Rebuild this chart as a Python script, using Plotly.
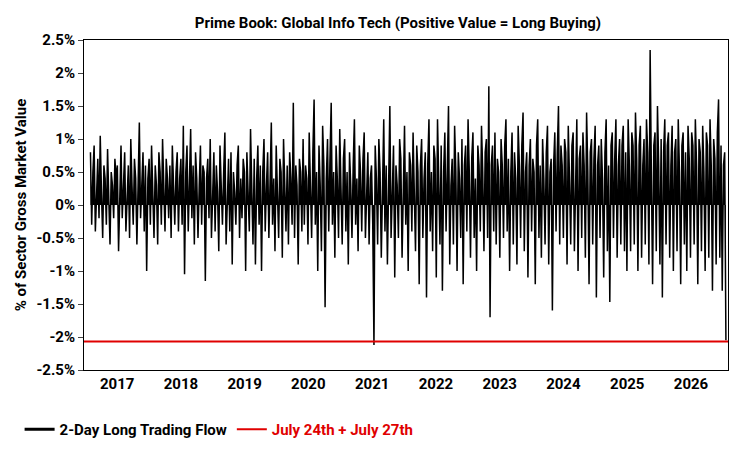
import pandas as pd
import plotly.graph_objects as go

v2016 = [0.8,-0.3,0.5,0.9,-0.4,0.3,0.7,-0.2,1.05,0.2,-0.5,0.6,0.4,-0.3,0.85,0.1,-0.6,0.5,0.3,-0.2,0.7,0.4]
v2017 = [0.6,-0.7,0.3,0.9,-0.2,0.5,0.8,-0.4,0.2,0.6,-0.5,1.0,0.3,-0.3,0.7,0.4,-0.6,0.5,1.25,-0.2,0.3,0.8,-0.4,0.6,-1.0,0.4,0.7,-0.3,0.9,0.2,-0.5,0.6,0.3,-0.6,0.8,0.5,-0.3,1.0,0.2,-0.4,0.7,0.4,-0.2,0.6,-0.5,0.9,0.3,-0.3,0.5,0.8,-0.4,0.4]
v2018 = [0.7,-0.3,1.2,-1.05,0.5,0.9,-0.4,0.3,1.15,-0.2,0.6,-0.6,0.8,0.4,-0.5,0.3,0.9,-0.3,0.6,0.5,-1.15,0.4,0.7,-0.2,1.0,-0.5,0.3,0.8,-0.4,0.6,0.2,-0.7,0.9,0.4,-0.3,0.5,1.1,-0.6,0.3,0.7,-0.4,0.8,-0.9,0.5,0.2,-0.3,0.6,0.9,-0.5,0.4,-0.2,0.7]
v2019 = [0.5,-1.0,0.8,0.3,-0.4,1.15,0.2,-0.6,0.7,-0.9,0.4,0.9,-0.3,0.6,-1.0,0.5,1.0,-0.4,0.3,0.8,-0.5,0.6,1.25,-0.3,0.4,-0.7,0.9,0.2,-0.5,0.7,0.5,-0.8,1.0,0.3,-0.4,0.6,-0.6,0.8,0.4,-0.3,1.55,-0.5,0.6,0.3,-0.9,0.7,0.5,-0.4,1.0,-0.3,0.6,0.4]
v2020 = [-0.6,1.1,0.4,-0.5,0.8,1.6,-0.3,0.5,-1.0,0.9,0.3,-0.7,1.2,0.6,-1.55,0.4,1.0,-0.4,0.7,1.55,-0.3,0.5,-0.8,0.9,0.4,-0.5,1.15,0.3,-0.6,0.7,1.0,-0.4,0.5,-0.9,0.8,0.3,-0.5,0.6,1.3,-0.3,0.4,-0.7,0.9,0.5,-0.4,0.7,1.1,-0.5,0.3,0.8,-0.6,0.4]
v2021 = [0.6,-0.3,-2.12,0.9,0.4,-0.6,1.0,0.5,-0.8,0.7,1.3,-0.4,0.6,-0.9,0.8,1.5,-0.5,0.4,0.9,-1.1,0.6,0.3,-0.5,1.0,0.7,-0.8,0.4,1.2,-0.3,0.5,-1.0,0.8,0.6,-0.4,1.1,0.3,-0.7,0.9,0.5,-1.2,0.6,1.0,-0.5,0.4,0.8,-1.4,0.6,1.3,-0.4,0.5,-0.7,0.9]
v2022 = [0.7,-1.1,1.3,0.4,-0.6,0.9,-1.3,0.5,1.1,-0.4,0.8,1.5,-0.9,0.3,0.7,-0.6,1.2,0.5,-1.0,0.8,0.4,-0.5,1.0,-1.2,0.6,0.9,-0.4,1.3,0.5,-0.8,0.7,1.1,-0.5,0.4,-1.0,0.9,0.6,-0.4,1.2,0.5,-0.7,0.8,1.0,-0.5,1.8,-1.7,0.6,0.9,-0.4,1.1,-0.6,0.7]
v2023 = [0.5,-0.8,1.0,0.6,-0.5,0.9,1.3,-0.4,0.7,-1.0,0.5,1.1,-0.6,0.8,0.4,-0.9,1.2,0.6,-0.5,0.9,1.4,-0.7,0.5,0.8,-1.1,0.6,1.0,-0.4,0.7,0.5,-1.2,0.9,1.3,-0.5,0.6,-0.8,1.0,0.4,-0.6,0.8,1.2,-0.9,0.5,0.7,-1.6,0.6,1.1,-0.4,0.8,1.5,-0.6,0.9]
v2024 = [0.6,-0.5,1.0,0.8,-0.9,1.2,0.4,-0.6,0.9,1.1,-0.7,0.5,1.3,-1.0,0.7,0.9,-0.5,1.1,0.6,-0.8,1.4,0.5,-1.2,0.8,1.0,-0.6,0.7,1.2,-1.4,0.6,0.9,-0.5,1.0,0.4,-1.1,0.8,1.3,-0.7,0.6,-1.47,0.9,1.1,-0.5,0.7,1.3,-0.8,0.6,1.0,-0.6,0.9,1.2,-0.7]
v2025 = [0.8,-1.0,1.3,0.6,-0.7,1.1,0.9,-0.6,1.4,0.7,-1.0,0.9,1.2,-0.8,0.6,1.0,-0.6,1.3,0.8,-0.9,2.35,0.5,-1.2,0.9,1.1,-0.7,1.5,0.6,-0.9,1.0,-1.4,0.8,1.3,-0.6,0.9,1.1,-0.8,0.6,1.2,-1.0,0.8,1.0,-0.7,1.3,0.5,-1.2,0.9,1.1,-0.6,0.8,-1.0,1.2]
v2026 = [0.7,-0.8,1.1,0.9,-0.6,1.3,0.6,-1.2,1.0,0.8,-0.7,1.2,0.5,-1.0,1.1,0.9,-0.8,1.3,0.6,-1.3,1.0,0.7,-0.9,1.1,1.6,-0.8,0.9,-1.3,0.6,0.8,-2.05]

values = v2016+v2017+v2018+v2019+v2020+v2021+v2022+v2023+v2024+v2025+v2026
dates = [d.strftime("%Y-%m-%d") for d in pd.date_range("2016-08-01", periods=len(values), freq="7D")]
ref_level = -2.07
ref_label = "July 24th + July 27th"
series_label = "2-Day Long Trading Flow"
tick_years = [str(y) for y in range(2017, 2027)]
y_ticks = [-2.5, -2, -1.5, -1, -0.5, 0, 0.5, 1, 1.5, 2, 2.5]
y_labels = ["-2.5%", "-2%", "-1.5%", "-1%", "-0.5%", "0%", "0.5%", "1%", "1.5%", "2%", "2.5%"]

fig = go.Figure()
fig.add_trace(go.Scatter(x=dates, y=values, mode="lines", showlegend=False,
                         line=dict(color="black", width=1.5), fill="tozeroy", fillcolor="black"))
fig.add_trace(go.Scatter(x=[None], y=[None], mode="lines", name="<b>" + series_label + "</b>",
                         line=dict(color="black", width=3)))
fig.add_trace(go.Scatter(x=["2016-06-01", "2026-09-01"], y=[ref_level, ref_level], mode="lines",
                         name="<b><span style='color:#e00000'>" + ref_label + "</span></b>",
                         line=dict(color="#e00000", width=2)))
fig.update_layout(
    width=750, height=450, template="simple_white",
    font=dict(family="Roboto", size=15, color="black"),
    title=dict(text="<b>Prime Book: Global Info Tech (Positive Value = Long Buying)</b>",
               x=0.52, xanchor="center", y=0.98, font=dict(size=15)),
    margin=dict(l=72, r=30, t=32, b=84),
    showlegend=True,
    legend=dict(orientation="h", x=-0.1, y=-0.13, xanchor="left", yanchor="top",
                font=dict(size=15, family="Roboto"), itemwidth=30),
    plot_bgcolor="white",
)
fig.update_xaxes(range=["2016-06-25", "2026-08-01"], automargin=False,
                 tickvals=[f"{y}-01-01" for y in tick_years], ticktext=["<b>%s</b>" % t for t in tick_years],
                 mirror=True, showline=True, linecolor="black", ticks="", tickfont=dict(size=15))
fig.update_yaxes(range=[-2.5, 2.5], tickvals=y_ticks, ticktext=["<b>%s</b>" % t for t in y_labels],
                 mirror=True, showline=True, linecolor="black", ticks="outside", automargin=False,
                 zeroline=False, tickfont=dict(size=15),
                 title=dict(text="<b>% of Sector Gross Market Value</b>", font=dict(size=15), standoff=6))
fig.write_html("out.html")
